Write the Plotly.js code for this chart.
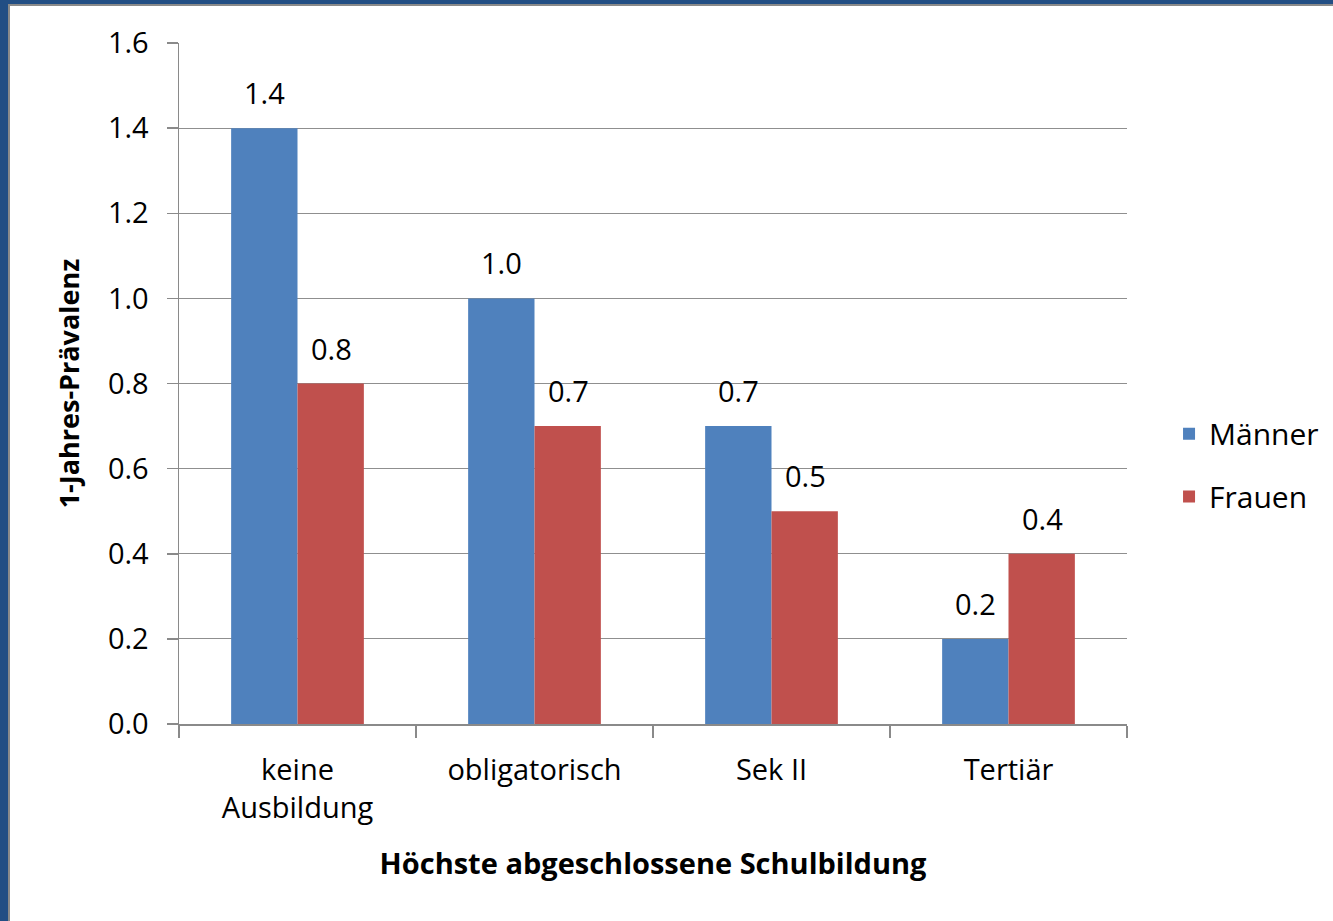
<!DOCTYPE html>
<html>
<head>
<meta charset="utf-8">
<script src="https://cdn.plot.ly/plotly-3.0.1.min.js"></script>
<style>
  html, body { margin: 0; padding: 0; background: #ffffff; }
  #chart { width: 1333px; height: 921px; }
  .bt1 { position: absolute; left: 0; top: 0; width: 1333px; height: 4px; background: #224e84; }
  .bt2 { position: absolute; left: 0; top: 4px; width: 1333px; height: 2px; background: #8a8a8a; }
  .bl1 { position: absolute; left: 0; top: 0; width: 8px; height: 921px; background: #224e84; }
  .bl2 { position: absolute; left: 8px; top: 4px; width: 2px; height: 917px; background: #8a8a8a; }
</style>
</head>
<body>
<div id="chart"></div>
<div class="bt1"></div><div class="bt2"></div><div class="bl1"></div><div class="bl2"></div>
<script>
const categories = ["keine<br>Ausbildung", "obligatorisch", "Sek II", "Tertiär"];
const maenner = [1.4, 1.0, 0.7, 0.2];
const frauen = [0.8, 0.7, 0.5, 0.4];
const seriesNames = ["Männer", "Frauen"];
const colors = ["#4f81bd", "#c0504d"];

const FONT = "Open Sans, Noto Sans, sans-serif";
const FS = 29;

const traces = [
  { type: "bar", name: seriesNames[0], x: categories, y: maenner, marker: { color: colors[0] }, legend: "legend", hoverinfo: "none" },
  { type: "bar", name: seriesNames[1], x: categories, y: frauen, marker: { color: colors[1] }, legend: "legend2", hoverinfo: "none" }
];

const annotations = [];
[maenner, frauen].forEach((vals, si) => {
  vals.forEach((v, i) => {
    annotations.push({
      x: categories[i], y: v, xref: "x", yref: "y",
      text: v.toFixed(1), showarrow: false,
      xshift: si === 0 ? -33.5 : 33.5, yshift: 14, yanchor: "bottom",
      font: { family: FONT, size: FS, color: "#000" }
    });
  });
});

const layout = {
  width: 1333, height: 921,
  margin: { l: 179, r: 206, t: 43, b: 197 },
  paper_bgcolor: "#ffffff", plot_bgcolor: "#ffffff",
  barmode: "group", bargap: 0.44, bargroupgap: 0,
  font: { family: FONT, size: FS, color: "#000" },
  xaxis: {
    type: "category",
    showline: true, linecolor: "#8a8a8a", linewidth: 1.5,
    ticks: "outside", tickson: "boundaries", ticklen: 12, tickcolor: "#8a8a8a", tickwidth: 1.5,
    ticklabelstandoff: 20,
    tickfont: { family: FONT, size: FS, color: "#000" },
    title: { text: "<b>Höchste abgeschlossene Schulbildung</b>", font: { family: FONT, size: 29, color: "#000" }, standoff: 28 },
    automargin: false
  },
  yaxis: {
    range: [0, 1.6], dtick: 0.2, tickformat: ".1f",
    showline: true, linecolor: "#8a8a8a", linewidth: 1.5,
    ticks: "outside", ticklen: 11, tickcolor: "#8a8a8a", tickwidth: 1.5,
    ticklabelstandoff: 12,
    showgrid: true, gridcolor: "#8f8f8f", gridwidth: 1.2,
    zeroline: false,
    tickfont: { family: FONT, size: FS, color: "#000" },
    title: { text: "<b>1-Jahres-Prävalenz</b>", font: { family: FONT, size: 27, color: "#000" }, standoff: 20 },
    automargin: false
  },
  legend: { xref: "container", yref: "container", x: 0.877, y: 0.529, xanchor: "left", yanchor: "middle", font: { family: FONT, size: 30, color: "#000" }, bgcolor: "rgba(0,0,0,0)" },
  legend2: { xref: "container", yref: "container", x: 0.877, y: 0.461, xanchor: "left", yanchor: "middle", font: { family: FONT, size: 30, color: "#000" }, bgcolor: "rgba(0,0,0,0)" },
  showlegend: true,
  annotations: annotations
};

Plotly.newPlot("chart", traces, layout, { displayModeBar: false, staticPlot: true });
</script>
</body>
</html>
